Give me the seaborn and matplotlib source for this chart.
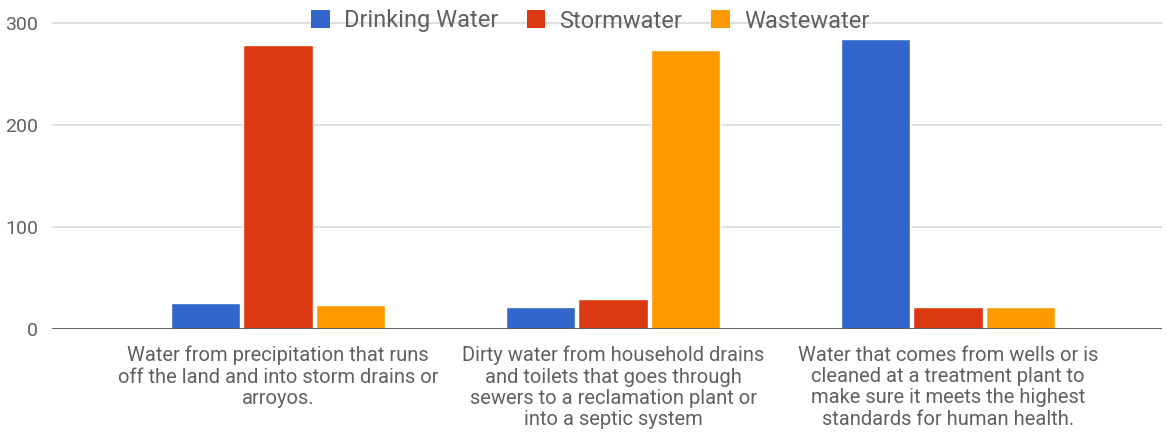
import matplotlib
matplotlib.use("Agg")
import matplotlib.pyplot as plt
from matplotlib.patches import Patch
import seaborn as sns
import pandas as pd

categories = [
    "Water from precipitation that runs\noff the land and into storm drains or\narroyos.",
    "Dirty water from household drains\nand toilets that goes through\nsewers to a reclamation plant or\ninto a septic system",
    "Water that comes from wells or is\ncleaned at a treatment plant to\nmake sure it meets the highest\nstandards for human health.",
]
series = ["Drinking Water", "Stormwater", "Wastewater"]
drinking_water = [26, 22, 284]
stormwater = [278, 30, 22]
wastewater = [24, 274, 22]
yticks = [0, 100, 200, 300]
colors = ["#3366CC", "#DC3912", "#FF9900"]

rows = []
for name, vals in zip(series, [drinking_water, stormwater, wastewater]):
    for cat, v in zip(categories, vals):
        rows.append({"category": cat, "series": name, "value": v})
df = pd.DataFrame(rows)

sns.set_theme(style="white")
plt.rcParams["font.family"] = ["Roboto", "DejaVu Sans"]

W, H = 1167, 438
fig = plt.figure(figsize=(W / 100, H / 100), dpi=100)
left, right, top, bottom = 52, 1162, 23, 329.3
ax = fig.add_axes([left / W, 1 - bottom / H, (right - left) / W, (bottom - top) / H])

sns.barplot(data=df, x="category", y="value", hue="series", order=categories,
            hue_order=series, palette=colors, width=0.65, gap=0.04,
            saturation=1, ax=ax, legend=False, zorder=3)

ax.set_ylim(0, 300)
ax.set_xlim(-0.675, 2.639)
ax.set_yticks(yticks)
ax.set_yticklabels([str(t) for t in yticks])
for t in yticks[1:]:
    ax.axhline(t, color="#d9d9d9", lw=1.2, zorder=1, clip_on=False)
ax.axhline(0, color="#555555", lw=2, zorder=4)

for s in ax.spines.values():
    s.set_visible(False)
ax.set_xlabel("")
ax.set_ylabel("")
ax.tick_params(axis="y", length=0, pad=10, labelsize=14, labelcolor="#606060")
ax.tick_params(axis="x", length=0, pad=12, labelsize=14.5, labelcolor="#606060")
for lbl in ax.get_xticklabels():
    lbl.set_multialignment("center")
    lbl.set_linespacing(1.15)

handles = [Patch(facecolor=c, edgecolor="none") for c in colors]
leg = fig.legend(handles, series, loc="center", bbox_to_anchor=(590 / W, 1 - 21 / H),
                 ncol=3, frameon=False, fontsize=17, handlelength=0.8, handleheight=0.8,
                 handletextpad=0.6, columnspacing=1.2, labelcolor="#606060")

fig.savefig("out.png", dpi=100)
